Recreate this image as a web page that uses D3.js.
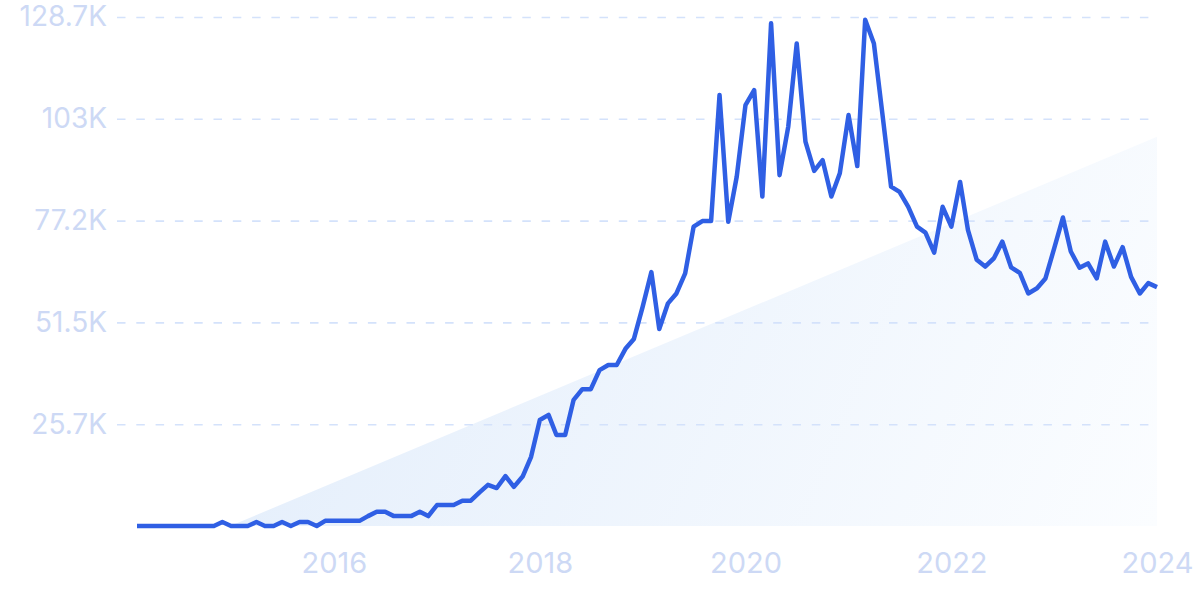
<!DOCTYPE html>
<html>
<head>
<meta charset="utf-8">
<script src="https://cdn.jsdelivr.net/npm/d3@7"></script>
<style>
  html, body { margin: 0; padding: 0; background: #ffffff; }
  svg { display: block; }
</style>
</head>
<body>
<svg id="chart" width="1200" height="599"></svg>
<script>
// ---- data ----
const startMonth = "2014-02-01";
const values = [
  0, 0, 0, 0, 0, 0, 0, 0, 0, 0,
  1000, 0, 0, 0, 1000, 0, 0, 1000, 0, 1000,
  1000, 0, 1300, 1300, 1300, 1300, 1300, 2500, 3600, 3600,
  2500, 2500, 2500, 3600, 2500, 5300, 5300, 5300, 6400, 6400,
  8500, 10400, 9600, 12600, 9900, 12500, 17500, 26800, 28100, 23000,
  23000, 31900, 34600, 34600, 39400, 40700, 40700, 44800, 47300, 55400,
  64200, 49800, 56300, 58800, 63900, 75700, 77100, 77100, 109000, 76900,
  88300, 106400, 110200, 83300, 127100, 88700, 101000, 122000, 97200, 89800,
  92500, 83300, 89200, 103900, 91000, 128000, 122000, 104300, 85800, 84500,
  80700, 75700, 74200, 69100, 80700, 75700, 87000, 74800, 67300, 65600,
  67700, 71900, 65400, 64000, 58800, 60100, 62600, 70200, 78000, 69400,
  65300, 66400, 62600, 71900, 65600, 70500, 63000, 58800, 61400, 60400
];
const trendValues = [-9900, 98400];           // trend line value at first and last month
const yTickValues = [25740, 51480, 77220, 102960, 128700];
const yTickLabels = ["25.7K", "51.5K", "77.2K", "103K", "128.7K"];
const xTickYears = [2016, 2018, 2020, 2022, 2024];

// ---- setup ----
const svg = d3.select("#chart");
const W = 1200, H = 599;
const margin = { left: 137, right: 43, top: 17, bottom: 73 };
const start = new Date(startMonth + "T00:00:00");
const dates = values.map((v, i) => d3.timeMonth.offset(start, i));
const data = values.map((v, i) => ({ date: dates[i], value: v }));

const x = d3.scaleTime()
  .domain([dates[0], dates[dates.length - 1]])
  .range([margin.left, W - margin.right]);
const y = d3.scaleLinear()
  .domain([0, 128700])
  .range([H - margin.bottom, margin.top]);

const labelColor = "#cdd9f5";
const fontFamily = "Inter, 'Noto Sans', sans-serif";
const yFontSize = 28;
const xFontSize = 29;

// ---- defs ----
const defs = svg.append("defs");
const grad = defs.append("linearGradient")
  .attr("id", "trendGrad")
  .attr("gradientUnits", "userSpaceOnUse")
  .attr("x1", 230).attr("y1", 140)
  .attr("x2", 1157).attr("y2", 526);
grad.append("stop").attr("offset", "0%").attr("stop-color", "#e2edfb");
grad.append("stop").attr("offset", "100%").attr("stop-color", "#fbfdff");

defs.append("clipPath").attr("id", "plotClip")
  .append("rect")
  .attr("x", x.range()[0]).attr("y", 0)
  .attr("width", x.range()[1] - x.range()[0])
  .attr("height", y(0));

// ---- trend area ----
const trendData = [
  { date: dates[0], value: trendValues[0] },
  { date: dates[dates.length - 1], value: trendValues[1] }
];
svg.append("path")
  .datum(trendData)
  .attr("clip-path", "url(#plotClip)")
  .attr("fill", "url(#trendGrad)")
  .attr("d", d3.area()
    .x(d => x(d.date))
    .y0(y(0))
    .y1(d => y(d.value)));

// ---- grid + y labels ----
const yAxis = d3.axisLeft(y)
  .tickValues(yTickValues)
  .tickSize(-(x.range()[1] - 117))
  .tickPadding(10)
  .tickFormat((d, i) => yTickLabels[i]);
const gy = svg.append("g")
  .attr("transform", `translate(117,0)`)
  .call(yAxis);
gy.select(".domain").remove();
gy.selectAll(".tick line")
  .attr("stroke", "#d4e2fb")
  .attr("stroke-width", 1.6)
  .attr("stroke-dasharray", "8.5,10.8");
gy.selectAll(".tick text")
  .attr("fill", labelColor)
  .attr("font-family", fontFamily)
  .attr("font-size", yFontSize)
  .attr("x", -10);

// ---- x labels ----
const xAxis = d3.axisBottom(x)
  .tickValues(xTickYears.map(yr => new Date(yr, 0, 1)))
  .tickSize(0)
  .tickPadding(0)
  .tickFormat(d3.timeFormat("%Y"));
const gx = svg.append("g")
  .attr("transform", `translate(0,${y(0) + 27})`)
  .call(xAxis);
gx.select(".domain").remove();
gx.selectAll(".tick text")
  .attr("fill", labelColor)
  .attr("font-family", fontFamily)
  .attr("font-size", xFontSize)
  .attr("dy", "0.7em");

// ---- line ----
svg.append("path")
  .datum(data)
  .attr("fill", "none")
  .attr("stroke", "#2f5fe4")
  .attr("stroke-width", 4.5)
  .attr("stroke-linejoin", "round")
  .attr("stroke-linecap", "butt")
  .attr("d", d3.line()
    .x(d => x(d.date))
    .y(d => y(d.value)));
</script>
</body>
</html>
